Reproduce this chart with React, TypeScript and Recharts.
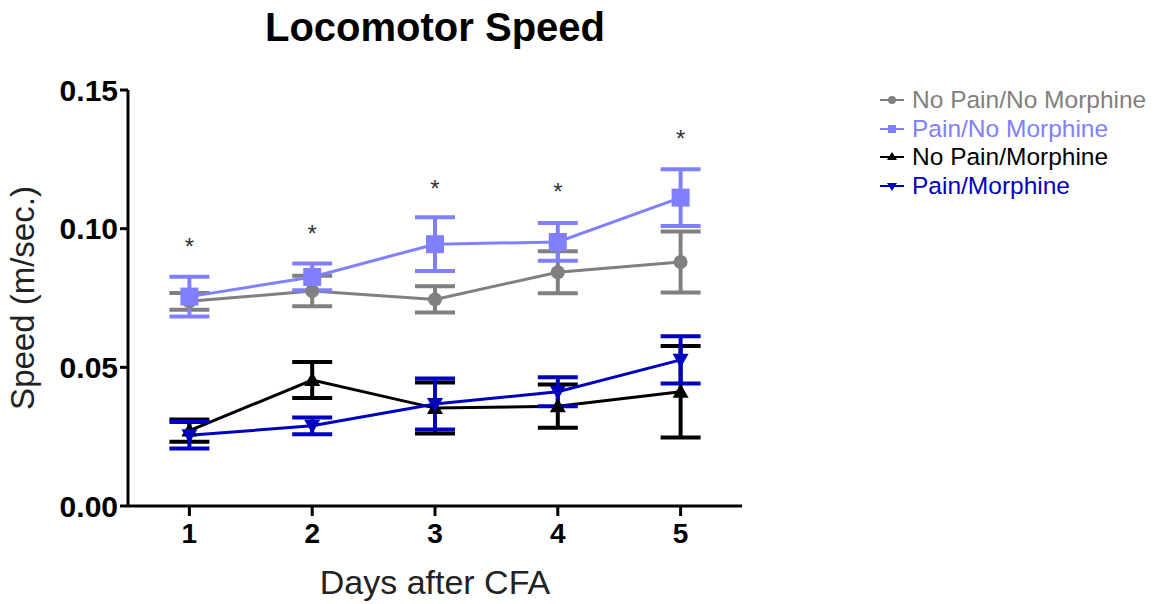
import {
  ComposedChart,
  Line,
  ErrorBar,
  XAxis,
  YAxis,
  Label,
} from "recharts";

const days = [1, 2, 3, 4, 5];

const noPainNoMorphine = [0.0738, 0.0775, 0.0745, 0.0843, 0.088];
const noPainNoMorphineErr = [0.003, 0.0055, 0.0047, 0.0076, 0.011];

const painNoMorphine = [0.0755, 0.0826, 0.0944, 0.0952, 0.1112];
const painNoMorphineErr = [0.0072, 0.0048, 0.0097, 0.0068, 0.0102];

const noPainMorphine = [0.0272, 0.0454, 0.0353, 0.036, 0.0412];
const noPainMorphineErr = [0.004, 0.0065, 0.0092, 0.0078, 0.0165];

const painMorphine = [0.0255, 0.0289, 0.0368, 0.0412, 0.0527];
const painMorphineErr = [0.0048, 0.003, 0.0092, 0.0052, 0.0085];

const starLevels = [0.0948, 0.0995, 0.1158, 0.1147, 0.1338];

const yTicks = [0, 0.05, 0.1, 0.15];

const GRAY = "#808080";
const LIGHT_BLUE = "#8080FF";
const BLACK = "#000000";
const BLUE = "#0000C0";
const FONT = "'Liberation Sans', Arial, sans-serif";

const data = days.map((d, i) => ({
  day: d,
  npnm: noPainNoMorphine[i],
  npnmErr: noPainNoMorphineErr[i],
  pnm: painNoMorphine[i],
  pnmErr: painNoMorphineErr[i],
  npm: noPainMorphine[i],
  npmErr: noPainMorphineErr[i],
  pm: painMorphine[i],
  pmErr: painMorphineErr[i],
  star: starLevels[i],
}));

const circleDot = (color: string) => (p: any) => (
  <circle key={p.index} cx={p.cx} cy={p.cy} r={7} fill={color} />
);
const squareDot = (color: string) => (p: any) => (
  <rect key={p.index} x={p.cx - 9} y={p.cy - 9} width={18} height={18} fill={color} />
);
const triUpDot = (color: string) => (p: any) => (
  <path
    key={p.index}
    d={`M${p.cx},${p.cy - 8} L${p.cx + 8},${p.cy + 6} L${p.cx - 8},${p.cy + 6} Z`}
    fill={color}
  />
);
const triDownDot = (color: string) => (p: any) => (
  <path
    key={p.index}
    d={`M${p.cx},${p.cy + 8} L${p.cx + 8},${p.cy - 6} L${p.cx - 8},${p.cy - 6} Z`}
    fill={color}
  />
);
const starDot = (p: any) => (
  <text
    key={p.index}
    x={p.cx}
    y={p.cy + 12}
    textAnchor="middle"
    fontSize={24}
    fontFamily={FONT}
    fill="#333"
  >
    *
  </text>
);

const legendItems = [
  { name: "No Pain/No Morphine", color: GRAY, shape: "circle" },
  { name: "Pain/No Morphine", color: LIGHT_BLUE, shape: "square" },
  { name: "No Pain/Morphine", color: BLACK, shape: "up" },
  { name: "Pain/Morphine", color: BLUE, shape: "down" },
];

function ChartLegend() {
  return (
    <div
      style={{
        position: "absolute",
        left: 878,
        top: 86,
        fontFamily: FONT,
        fontSize: 24.5,
        lineHeight: "28px",
      }}
    >
      {legendItems.map((it) => (
        <div
          key={it.name}
          style={{ display: "flex", alignItems: "center", height: 28.5, color: it.color }}
        >
          <svg width={28} height={14} style={{ marginRight: 6 }}>
            <line x1={2} y1={7} x2={26} y2={7} stroke={it.color} strokeWidth={2} />
            {it.shape === "circle" && <circle cx={14} cy={7} r={4} fill={it.color} />}
            {it.shape === "square" && <rect x={10} y={3} width={8} height={8} fill={it.color} />}
            {it.shape === "up" && <path d="M14,2 L19,10 L9,10 Z" fill={it.color} />}
            {it.shape === "down" && <path d="M14,12 L19,4 L9,4 Z" fill={it.color} />}
          </svg>
          {it.name}
        </div>
      ))}
    </div>
  );
}

export default function App() {
  return (
    <div style={{ position: "absolute", left: 0, top: 0, width: 1155, height: 604, background: "#fff" }}>
      <ComposedChart
        width={1155}
        height={604}
        data={data}
        margin={{ top: 90, right: 413, bottom: 38, left: 68 }}
      >
        <text
          x={435}
          y={41}
          textAnchor="middle"
          fontSize={40}
          fontWeight="bold"
          fontFamily={FONT}
          fill="#000"
        >
          Locomotor Speed
        </text>
        <XAxis
          dataKey="day"
          type="number"
          domain={[0.5, 5.5]}
          ticks={days}
          height={60}
          stroke="#000"
          strokeWidth={3}
          tickSize={10}
          tick={{ fontSize: 28, fontWeight: "bold", fontFamily: FONT, fill: "#000", dy: 5 }}
        >
          <Label
            value="Days after CFA"
            position="insideBottom"
            offset={-28}
            style={{ fontSize: 34, fontFamily: FONT, fill: "#222" }}
          />
        </XAxis>
        <YAxis
          type="number"
          domain={[0, 0.15]}
          ticks={yTicks}
          width={60}
          stroke="#000"
          strokeWidth={3}
          tickSize={8}
          tickFormatter={(v: number) => v.toFixed(2)}
          tick={{ fontSize: 30, fontWeight: "bold", fontFamily: FONT, fill: "#000" }}
        >
          <Label
            value="Speed (m/sec.)"
            angle={-90}
            position="insideLeft"
            offset={-46}
            style={{ fontSize: 33, fontFamily: FONT, fill: "#222", textAnchor: "middle" }}
          />
        </YAxis>
        <Line
          dataKey="npnm"
          name="No Pain/No Morphine"
          stroke={GRAY}
          strokeWidth={3}
          dot={circleDot(GRAY)}
          isAnimationActive={false}
        >
          <ErrorBar dataKey="npnmErr" width={20} strokeWidth={4} stroke={GRAY} direction="y" />
        </Line>
        <Line
          dataKey="pnm"
          name="Pain/No Morphine"
          stroke={LIGHT_BLUE}
          strokeWidth={3}
          dot={squareDot(LIGHT_BLUE)}
          isAnimationActive={false}
        >
          <ErrorBar dataKey="pnmErr" width={20} strokeWidth={4} stroke={LIGHT_BLUE} direction="y" />
        </Line>
        <Line
          dataKey="npm"
          name="No Pain/Morphine"
          stroke={BLACK}
          strokeWidth={3}
          dot={triUpDot(BLACK)}
          isAnimationActive={false}
        >
          <ErrorBar dataKey="npmErr" width={20} strokeWidth={4} stroke={BLACK} direction="y" />
        </Line>
        <Line
          dataKey="pm"
          name="Pain/Morphine"
          stroke={BLUE}
          strokeWidth={3}
          dot={triDownDot(BLUE)}
          isAnimationActive={false}
        >
          <ErrorBar dataKey="pmErr" width={20} strokeWidth={4} stroke={BLUE} direction="y" />
        </Line>
        <Line
          dataKey="star"
          stroke="none"
          dot={starDot}
          legendType="none"
          isAnimationActive={false}
        />
      </ComposedChart>
      <ChartLegend />
    </div>
  );
}
